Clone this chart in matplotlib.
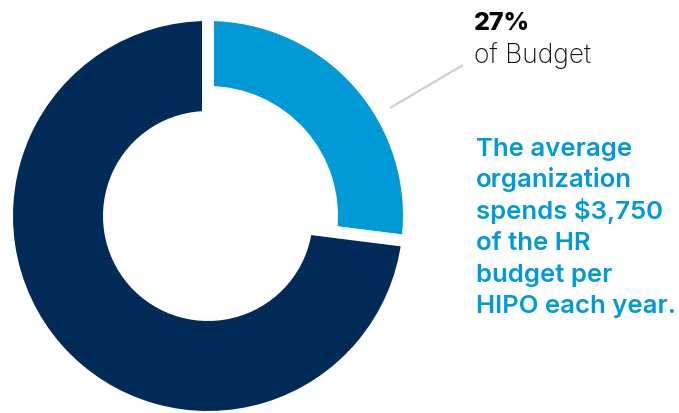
import matplotlib
matplotlib.use("Agg")
import matplotlib.pyplot as plt

# Budget share spent on HIPO programs
labels = ["HIPO spend", "Rest of HR budget"]
shares = [27, 73]
share_label = "27%"
share_caption = "of Budget"
message_lines = [
    "The average",
    "organization",
    "spends $3,750",
    "of the HR",
    "budget per",
    "HIPO each year.",
]

BLUE = "#009ad6"
NAVY = "#002a57"
GAP_PX = 12
W, H = 679, 413

fig = plt.figure(figsize=(W / 100, H / 100), dpi=100)
ax = fig.add_axes([0, 0, 1, 1])
ax.set_xlim(0, W)
ax.set_ylim(0, H)
ax.set_aspect("equal")
ax.axis("off")

cx, cy = 208, H - 216
r_out = 195 + GAP_PX / 2
gap_pt = GAP_PX * 72 / 100

# thinner ring for the highlighted share, thicker ring for the remainder
ring_specs = [
    (0, 195 - 130 + GAP_PX),  # blue ring: inner radius ~130
    (1, 195 - 105 + GAP_PX),  # navy ring: inner radius ~105
]
for idx, width in ring_specs:
    wedges, _ = ax.pie(
        shares,
        labels=None,
        colors=[BLUE, NAVY],
        startangle=90,
        counterclock=False,
        center=(cx, cy),
        radius=r_out,
        wedgeprops=dict(width=width, edgecolor="white", linewidth=gap_pt),
        frame=True,
    )
    for j, w in enumerate(wedges):
        if j != idx:
            w.set_visible(False)

ax.set_xlim(0, W)
ax.set_ylim(0, H)
ax.axis("off")

# leader line from the share to its label
ax.plot([390, 463], [H - 108, H - 65], color="#cfcfcf", lw=1.6,
        solid_capstyle="butt")

ax.text(474, H - 30, share_label, fontsize=18, fontweight="heavy",
        family="Inter", color="black", ha="left", va="baseline")
ax.text(474, H - 63, share_caption, fontsize=19, fontweight="light",
        family="Inter", color="#111111", ha="left", va="baseline")

y0 = H - 156
for i, line in enumerate(message_lines):
    ax.text(476, y0 - i * 31.4, line, fontsize=18.5, fontweight="semibold",
            family="Inter", color=BLUE, ha="left", va="baseline")

fig.savefig("out.png", dpi=100)
